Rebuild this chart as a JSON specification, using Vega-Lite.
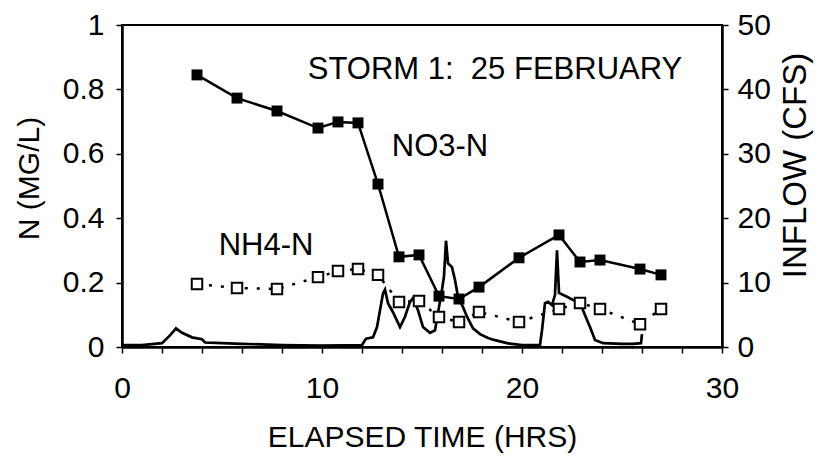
{
  "$schema": "https://vega.github.io/schema/vega-lite/v6.json",
  "width": 600,
  "height": 322,
  "autosize": {"type": "none"},
  "padding": {"left": 122, "top": 25, "right": 105, "bottom": 110},
  "background": "white",
  "config": {
    "view": {"stroke": "black", "strokeWidth": 2},
    "font": "Liberation Sans",
    "axis": {
      "domainColor": "black", "domainWidth": 2.5,
      "tickColor": "black", "tickWidth": 1.5,
      "labelColor": "black", "titleColor": "black",
      "labelFont": "Liberation Sans", "titleFont": "Liberation Sans",
      "labelFontSize": 30, "titleFontSize": 30,
      "labelFontWeight": "normal", "titleFontWeight": "normal",
      "grid": false
    }
  },
  "datasets": {
    "inflow": [
      {"hrs": 0, "cfs": 0.3}, {"hrs": 1.0, "cfs": 0.3}, {"hrs": 2.0, "cfs": 0.6},
      {"hrs": 2.4, "cfs": 1.8}, {"hrs": 2.7, "cfs": 2.9}, {"hrs": 3.0, "cfs": 2.2},
      {"hrs": 3.5, "cfs": 1.5}, {"hrs": 4.0, "cfs": 1.2}, {"hrs": 4.15, "cfs": 0.7},
      {"hrs": 5.0, "cfs": 0.6}, {"hrs": 6.0, "cfs": 0.5}, {"hrs": 8.0, "cfs": 0.3},
      {"hrs": 10.0, "cfs": 0.2}, {"hrs": 12.0, "cfs": 0.3}, {"hrs": 12.2, "cfs": 1.3},
      {"hrs": 12.55, "cfs": 1.5}, {"hrs": 12.75, "cfs": 3.1}, {"hrs": 12.9, "cfs": 5.7},
      {"hrs": 13.05, "cfs": 8.3}, {"hrs": 13.15, "cfs": 8.9}, {"hrs": 13.3, "cfs": 6.8},
      {"hrs": 13.55, "cfs": 5.4}, {"hrs": 13.9, "cfs": 3.1}, {"hrs": 14.15, "cfs": 4.7},
      {"hrs": 14.4, "cfs": 7.0}, {"hrs": 14.55, "cfs": 7.6}, {"hrs": 14.8, "cfs": 5.7},
      {"hrs": 15.05, "cfs": 3.1}, {"hrs": 15.4, "cfs": 2.2}, {"hrs": 15.65, "cfs": 2.6},
      {"hrs": 15.8, "cfs": 5.3}, {"hrs": 16.0, "cfs": 8.9}, {"hrs": 16.1, "cfs": 11.0},
      {"hrs": 16.2, "cfs": 16.5}, {"hrs": 16.3, "cfs": 13.0}, {"hrs": 16.5, "cfs": 12.4},
      {"hrs": 16.65, "cfs": 10.4}, {"hrs": 16.8, "cfs": 7.8}, {"hrs": 17.05, "cfs": 6.2},
      {"hrs": 17.25, "cfs": 4.7}, {"hrs": 17.55, "cfs": 2.9}, {"hrs": 17.9, "cfs": 2.0},
      {"hrs": 18.3, "cfs": 1.4}, {"hrs": 18.6, "cfs": 1.1}, {"hrs": 19.25, "cfs": 0.6},
      {"hrs": 20.0, "cfs": 0.3}, {"hrs": 20.9, "cfs": 0.3}, {"hrs": 21.0, "cfs": 2.6},
      {"hrs": 21.15, "cfs": 6.8}, {"hrs": 21.3, "cfs": 7.0}, {"hrs": 21.5, "cfs": 6.5},
      {"hrs": 21.65, "cfs": 8.1}, {"hrs": 21.75, "cfs": 15.0}, {"hrs": 21.85, "cfs": 8.4},
      {"hrs": 22.25, "cfs": 7.8}, {"hrs": 22.55, "cfs": 7.3}, {"hrs": 22.9, "cfs": 7.0},
      {"hrs": 23.05, "cfs": 5.7}, {"hrs": 23.25, "cfs": 4.2}, {"hrs": 23.4, "cfs": 3.1},
      {"hrs": 23.65, "cfs": 1.1}, {"hrs": 24.05, "cfs": 0.6}, {"hrs": 25.0, "cfs": 0.5},
      {"hrs": 25.55, "cfs": 0.5}, {"hrs": 25.95, "cfs": 0.6}, {"hrs": 26.0, "cfs": 2.0}
    ],
    "samples": [
      {"hrs": 3.75, "no3": 0.845, "nh4": 0.196},
      {"hrs": 5.75, "no3": 0.773, "nh4": 0.183},
      {"hrs": 7.75, "no3": 0.733, "nh4": 0.180},
      {"hrs": 9.8, "no3": 0.680, "nh4": 0.217},
      {"hrs": 10.8, "no3": 0.699, "nh4": 0.236},
      {"hrs": 11.8, "no3": 0.696, "nh4": 0.242},
      {"hrs": 12.8, "no3": 0.506, "nh4": 0.224},
      {"hrs": 13.85, "no3": 0.280, "nh4": 0.140},
      {"hrs": 14.85, "no3": 0.286, "nh4": 0.143},
      {"hrs": 15.85, "no3": 0.158, "nh4": 0.093},
      {"hrs": 16.85, "no3": 0.149, "nh4": 0.078},
      {"hrs": 17.85, "no3": 0.186, "nh4": 0.109},
      {"hrs": 19.85, "no3": 0.277, "nh4": 0.078},
      {"hrs": 21.85, "no3": 0.348, "nh4": 0.118},
      {"hrs": 22.9, "no3": 0.264, "nh4": 0.137},
      {"hrs": 23.9, "no3": 0.270, "nh4": 0.118},
      {"hrs": 25.9, "no3": 0.242, "nh4": 0.071},
      {"hrs": 26.95, "no3": 0.224, "nh4": 0.118}
    ],
    "labels": [
      {"hrs": 18.65, "val": 0.86, "text": "STORM 1:\u00a0 25 FEBRUARY"},
      {"hrs": 15.9, "val": 0.62, "text": "NO3-N"},
      {"hrs": 7.2, "val": 0.315, "text": "NH4-N"}
    ]
  },
  "encoding": {
    "x": {
      "field": "hrs", "type": "quantitative",
      "scale": {"domain": [0, 30], "nice": false, "zero": false},
      "axis": {
        "title": "ELAPSED TIME (HRS)",
        "values": [0, 2, 4, 6, 8, 10, 12, 14, 16, 18, 20, 22, 24, 26, 28, 30],
        "labelExpr": "datum.value % 10 === 0 ? format(datum.value, 'd') : ''",
        "tickSize": 6, "labelPadding": 20,
        "labelFlush": false, "labelOverlap": false,
        "titleY": 90, "titleBaseline": "middle"
      }
    }
  },
  "layer": [
    {
      "data": {"name": "inflow"},
      "mark": {"type": "line", "color": "black", "strokeWidth": 2.7},
      "encoding": {
        "y": {
          "field": "cfs", "type": "quantitative",
          "scale": {"domain": [0, 50], "nice": false},
          "axis": {
            "orient": "right", "title": "INFLOW (CFS)",
            "values": [0, 10, 20, 30, 40, 50],
            "tickSize": 6, "labelPadding": 9, "labelFlush": false,
            "titleFontSize": 33,
            "titleAngle": 270, "titleX": 73, "titleY": 140,
            "titleAlign": "center", "titleBaseline": "middle"
          }
        }
      }
    },
    {
      "encoding": {
        "y": {
          "type": "quantitative",
          "scale": {"domain": [0, 1], "nice": false},
          "axis": {
            "orient": "left", "title": "N  (MG/L)",
            "values": [0, 0.2, 0.4, 0.6, 0.8, 1],
            "format": "~g",
            "tickSize": 6, "labelPadding": 12, "labelFlush": false,
            "titleAngle": 270, "titleX": -93, "titleY": 153,
            "titleAlign": "center", "titleBaseline": "middle"
          }
        }
      },
      "layer": [
        {
          "data": {"name": "samples"},
          "mark": {"type": "line", "color": "black", "strokeWidth": 2.5, "strokeDash": [3, 9]},
          "encoding": {"y": {"field": "nh4", "type": "quantitative"}}
        },
        {
          "data": {"name": "samples"},
          "mark": {"type": "point", "shape": "square", "size": 110, "filled": true, "fill": "white", "stroke": "black", "strokeWidth": 2, "opacity": 1},
          "encoding": {"y": {"field": "nh4", "type": "quantitative"}}
        },
        {
          "data": {"name": "samples"},
          "mark": {"type": "line", "color": "black", "strokeWidth": 2.5},
          "encoding": {"y": {"field": "no3", "type": "quantitative"}}
        },
        {
          "data": {"name": "samples"},
          "mark": {"type": "point", "shape": "square", "size": 120, "filled": true, "color": "black", "opacity": 1},
          "encoding": {"y": {"field": "no3", "type": "quantitative"}}
        },
        {
          "data": {"name": "labels"},
          "mark": {"type": "text", "font": "Liberation Sans", "fontSize": 31, "color": "black", "align": "center", "baseline": "middle"},
          "encoding": {
            "y": {"field": "val", "type": "quantitative"},
            "text": {"field": "text", "type": "nominal"}
          }
        }
      ]
    }
  ],
  "resolve": {"scale": {"y": "independent"}, "axis": {"y": "independent"}}
}
